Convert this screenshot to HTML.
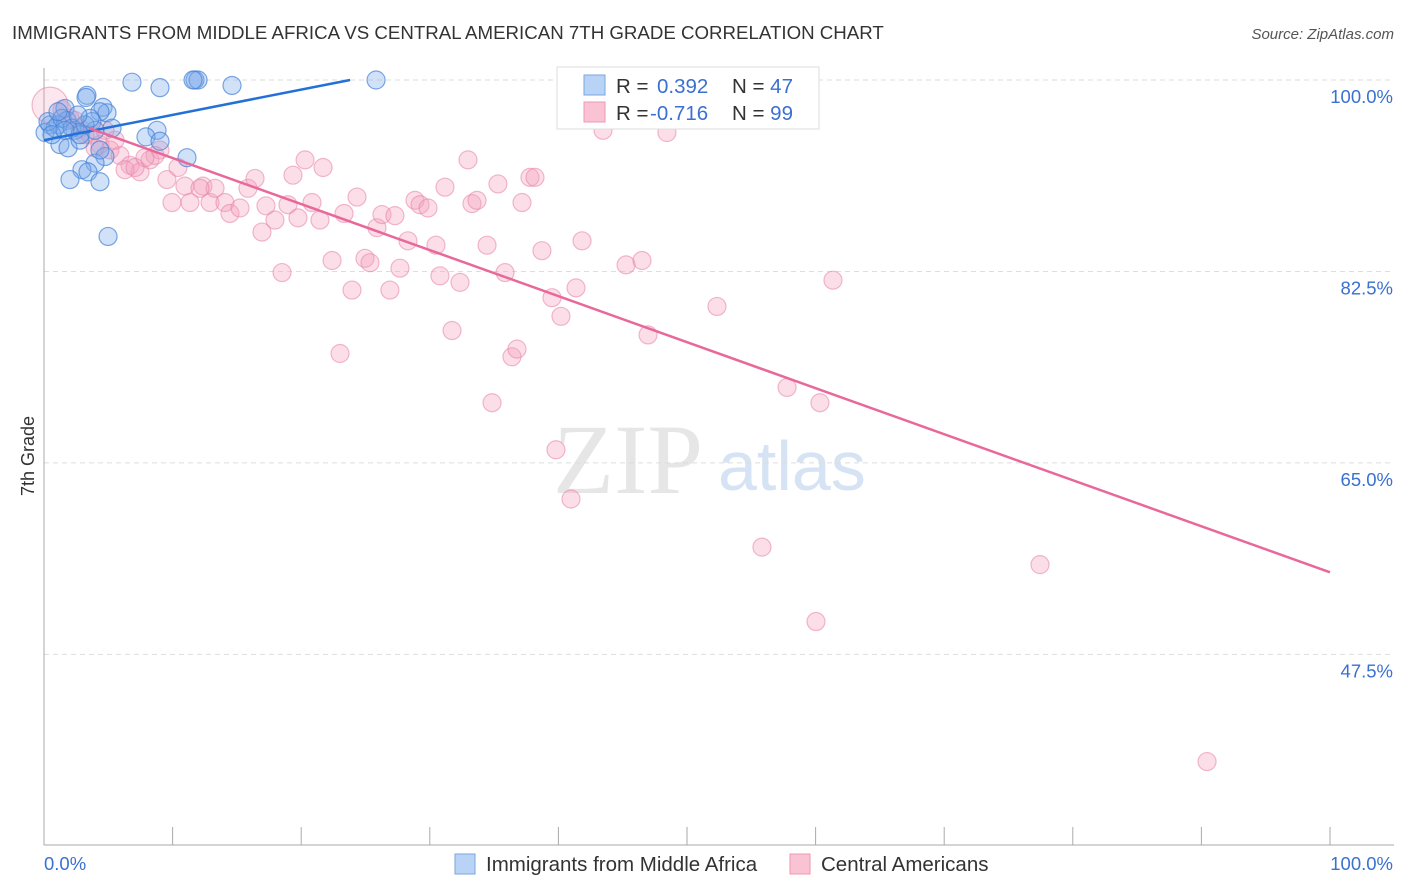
<!DOCTYPE html>
<html><head><meta charset="utf-8"><style>
body{margin:0;background:#fff;font-family:"Liberation Sans",sans-serif;}
svg{display:block}
</style></head><body>
<svg id="c" width="1406" height="892">
<text x="12" y="39" font-size="18.7" fill="#333">IMMIGRANTS FROM MIDDLE AFRICA VS CENTRAL AMERICAN 7TH GRADE CORRELATION CHART</text>
<text x="1394" y="39" font-size="15" fill="#555" font-style="italic" text-anchor="end">Source: ZipAtlas.com</text>
<text x="34" y="456" font-size="18" fill="#333" transform="rotate(-90 34 456)" text-anchor="middle">7th Grade</text>
<g>
<text x="553" y="493" font-size="100" font-family="Liberation Serif,serif" fill="#e6e6e6">ZIP</text>
<text x="718" y="490" font-size="70" fill="#d5e3f5">atlas</text>
</g>
<g id="grid"></g><g id="pts"></g><g id="lines"></g>
<g>
<rect x="557" y="67" width="262" height="62" fill="#fff" stroke="#ddd"/>
<rect x="584" y="75" width="21" height="20" fill="#b8d3f5" stroke="#7aa7e0"/>
<rect x="584" y="102" width="21" height="20" fill="#f9c3d3" stroke="#ec9ab5"/>
<text x="616" y="93" font-size="20.5" fill="#333">R = <tspan fill="#3a70d0" x="657">0.392</tspan><tspan x="732" fill="#333">N = </tspan><tspan fill="#3a70d0">47</tspan></text>
<text x="616" y="120" font-size="20.5" fill="#333">R = <tspan fill="#3a70d0" x="650">-0.716</tspan><tspan x="732" fill="#333">N = </tspan><tspan fill="#3a70d0">99</tspan></text>
</g>
<g>
<rect x="455" y="854" width="20" height="20" fill="#b8d3f5" stroke="#7aa7e0"/>
<text x="486" y="871" font-size="20.5" fill="#333">Immigrants from Middle Africa</text>
<rect x="790" y="854" width="20" height="20" fill="#f9c3d3" stroke="#ec9ab5"/>
<text x="821" y="871" font-size="20.5" fill="#333">Central Americans</text>
</g>
</svg>
<script>
const yTicks=[100,82.5,65,47.5];
const yTickLabels=["100.0%","82.5%","65.0%","47.5%"];
const xTickLabels=["0.0%","100.0%"];
const blueX=[6.84,9.02,11.74,11.98,11.59,14.62,25.82,3.34,3.27,4.59,4.9,4.35,1.63,3.73,1.79,0.47,1.09,0.08,2.41,3.97,1.24,1.87,2.8,8.79,7.93,9.02,11.12,4.74,3.97,2.95,3.42,2.02,4.35,4.98,0.86,0.31,1.4,2.18,2.8,0.62,1.63,3.19,3.58,4.35,2.64,1.09,5.29];
const blueY=[99.8,99.3,100,100,100,99.5,100,98.6,98.4,97.5,97.0,97.1,97.4,96.2,96.3,95.9,95.9,95.2,95.4,95.4,94.1,93.8,94.5,95.4,94.8,94.4,92.9,93.0,92.4,91.8,91.6,90.9,90.7,85.7,95.6,96.2,96.5,95.6,95.0,95.0,95.4,95.9,96.5,93.6,96.8,97.1,95.6];
const pinkX=[0.47,1.4,2.02,2.8,3.58,4.35,5.13,5.91,6.69,7.47,8.24,9.02,9.56,9.95,10.42,10.96,11.35,12.36,12.91,13.3,14.07,14.46,15.24,15.86,16.41,16.95,17.26,17.96,18.51,18.97,19.36,19.75,20.3,20.84,21.46,21.7,22.4,23.02,23.33,23.95,24.34,24.96,25.35,25.89,26.28,26.9,27.29,27.68,28.3,28.85,29.24,29.86,30.48,30.79,31.18,31.73,32.35,32.97,33.28,33.67,34.45,34.84,35.3,35.85,36.39,36.78,37.17,37.79,38.18,38.72,39.5,39.81,40.2,40.98,41.37,41.84,43.47,45.26,46.5,46.97,48.44,49.07,52.33,55.83,57.78,60.03,60.34,61.35,77.45,90.44,8.63,7.85,6.3,7.08,12.13,5.52,3.97,2.41,3.19,4.74];
const pinkY=[97.7,97.3,96.5,95.6,95.0,94.1,93.6,93.1,92.2,91.6,92.7,93.6,90.9,88.8,92.0,90.3,88.8,90.3,88.8,90.1,88.8,87.8,88.3,90.1,91.0,86.1,88.5,87.2,82.4,88.6,91.3,87.4,92.7,88.8,87.2,92.0,83.5,75.0,87.8,80.8,89.3,83.7,83.3,86.5,87.7,80.8,87.6,82.8,85.3,89.0,88.6,88.3,84.9,82.1,90.2,77.1,81.5,92.7,88.7,89.0,84.9,70.5,90.5,82.4,74.7,75.4,88.8,91.1,91.1,84.4,80.1,66.2,78.4,61.7,81.0,85.3,95.4,83.1,83.5,76.7,95.2,100,79.3,57.3,71.9,50.5,70.5,81.7,55.7,37.7,93.1,92.9,91.8,92.0,90.1,94.5,93.8,96.3,95.0,95.4];
const blueTrend=[[0,94.5],[23.8,100]];
const pinkTrend=[[3.5,95.6],[100,55.0]];
const NS='http://www.w3.org/2000/svg';
const X=v=>44+v*12.86, Y=v=>80+(100-v)*10.94;
function mk(tag,attrs,parent){const e=document.createElementNS(NS,tag);for(const k in attrs)e.setAttribute(k,attrs[k]);document.getElementById(parent).appendChild(e);return e;}
yTicks.forEach((t,i)=>{
 const l=mk('line',{x1:44,x2:1394,y1:Y(t),y2:Y(t),stroke:'#ddd','stroke-dasharray':'5,4'},'grid');
 
 
 const tx=mk('text',{x:1393,y:Y(t)+23,'font-size':18.5,fill:'#3a70d0','text-anchor':'end'},'grid');
 tx.textContent=yTickLabels[i];
 
 
});
const ax=mk('line',{x1:44,x2:44,y1:68,y2:845,stroke:'#aaa'},'grid');


const bx=mk('line',{x1:44,x2:1394,y1:845,y2:845,stroke:'#aaa'},'grid');


for(let i=0;i<=10;i++){
 const tk=mk('line',{x1:X(i*10),x2:X(i*10),y1:827,y2:845,stroke:'#aaa'},'grid');
 
 
}
const xl0=mk('text',{x:44,y:870,'font-size':18.5,fill:'#3a70d0'},'grid');xl0.textContent=xTickLabels[0];


const xl1=mk('text',{x:1393,y:870,'font-size':18.5,fill:'#3a70d0','text-anchor':'end'},'grid');xl1.textContent=xTickLabels[1];


pinkX.forEach((v,i)=>{
 const c=mk('circle',{cx:X(v),cy:Y(pinkY[i]),r:i===0?18:9,fill:i===0?'rgba(244,160,188,0.25)':'rgba(244,160,188,0.35)',stroke:'rgba(232,130,165,0.55)','stroke-width':1.2},'pts');
 
 
});
blueX.forEach((v,i)=>{
 const c=mk('circle',{cx:X(v),cy:Y(blueY[i]),r:9,fill:'rgba(120,170,235,0.35)',stroke:'rgba(70,130,215,0.7)','stroke-width':1.2},'pts');
 
 
});
const bl=mk('line',{x1:X(blueTrend[0][0]),y1:Y(blueTrend[0][1]),x2:X(blueTrend[1][0]),y2:Y(blueTrend[1][1]),stroke:'#2270d8','stroke-width':2.5},'lines');


const pl=mk('line',{x1:X(pinkTrend[0][0]),y1:Y(pinkTrend[0][1]),x2:X(pinkTrend[1][0]),y2:Y(pinkTrend[1][1]),stroke:'#e8689a','stroke-width':2.5},'lines');


</script>
</body></html>
